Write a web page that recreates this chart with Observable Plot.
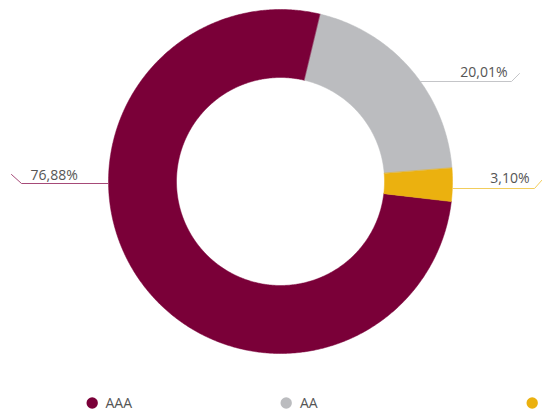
<!DOCTYPE html>
<html><head><meta charset="utf-8">
<script src="https://cdn.jsdelivr.net/npm/d3@7"></script>
<script src="https://cdn.jsdelivr.net/npm/@observablehq/plot@0.6"></script>
<style>body{margin:0;background:#fff;font-family:"Open Sans",sans-serif;}</style>
</head><body><div id="chart"></div>
<script>
// Data
const categories = ["AAA", "AA", "A"];
const shares = [76.88, 20.01, 3.10];
const valueLabels = ["76,88%", "20,01%", "3,10%"];
const legendLabels = ["AAA", "AA", ""];
const colors = ["#7a0038", "#bbbcbf", "#ebb10f"];
const lineColors = ["#a64a78", "#c4c5c8", "#f2cd5c"];

// Layout
const W = 542, H = 411;
const cx = 280, cy = 181, R = 172, R0 = 104;
const startDeg = 96.7;
const labelLayout = [
  {side: -1, y: 183, xEnd: 21, ddx: -10, ddy: -9, tx: 30, ty: 179, anchor: "start"},
  {side: 1, y: 81, xEnd: 511, ddx: 8, ddy: -8, tx: 507, ty: 76, anchor: "end"},
  {side: 1, y: 188, xEnd: 534, ddx: 8, ddy: -9, tx: 529, ty: 182, anchor: "end"}
];
const legendLayout = [
  {dx: 91.7, tx: 105},
  {dx: 285.7, tx: 299.5},
  {dx: 531.7, tx: 545}
];
const legendY = 402.5;

const pie = d3.pie().sort(null).value(d => d)
  .startAngle(startDeg * Math.PI / 180)
  .endAngle((startDeg + 360) * Math.PI / 180);
const arcs = pie(shares);

const slicePts = [];
arcs.forEach((a, i) => {
  const n = Math.max(6, Math.ceil((a.endAngle - a.startAngle) * 180 / Math.PI * 2));
  for (let k = 0; k <= n; k++) {
    const t = a.startAngle + (a.endAngle - a.startAngle) * k / n;
    slicePts.push({cat: categories[i], x: cx + R * Math.sin(t), y: cy - R * Math.cos(t)});
  }
  for (let k = n; k >= 0; k--) {
    const t = a.startAngle + (a.endAngle - a.startAngle) * k / n;
    slicePts.push({cat: categories[i], x: cx + R0 * Math.sin(t), y: cy - R0 * Math.cos(t)});
  }
});

const leaderPts = [];
labelLayout.forEach((L, i) => {
  const dy = L.y - cy;
  const xs = cx + L.side * Math.sqrt(R * R - dy * dy);
  leaderPts.push({cat: categories[i], x: xs, y: L.y});
  leaderPts.push({cat: categories[i], x: L.xEnd, y: L.y});
  leaderPts.push({cat: categories[i], x: L.xEnd + L.ddx, y: L.y + L.ddy});
});

const labelData = categories.map((c, i) => ({cat: c, label: valueLabels[i], ...labelLayout[i]}));
const legendData = categories.map((c, i) => ({cat: c, label: legendLabels[i], ...legendLayout[i]}));

const chart = Plot.plot({
  width: W, height: H,
  margin: 0,
  x: {domain: [0, W], range: [0, W], axis: null},
  y: {domain: [0, H], range: [0, H], axis: null},
  color: {domain: categories, range: colors},
  style: {fontFamily: "'Open Sans', sans-serif", background: "#fff"},
  marks: [
    Plot.line(slicePts, {x: "x", y: "y", z: "cat", fill: "cat", stroke: "cat", strokeWidth: 0.5, curve: "linear-closed"}),
    ...categories.map((c, i) => Plot.line(leaderPts.filter(d => d.cat === c), {x: "x", y: "y", stroke: lineColors[i], strokeWidth: 1})),
    Plot.text(labelData.filter(d => d.anchor === "end"), {x: "tx", y: "ty", text: "label", textAnchor: "end", lineAnchor: "bottom", fontSize: 14, fill: "#555"}),
    Plot.text(labelData.filter(d => d.anchor === "start"), {x: "tx", y: "ty", text: "label", textAnchor: "start", lineAnchor: "bottom", fontSize: 14, fill: "#555"}),
    Plot.dot(legendData, {x: "dx", y: () => legendY, r: 5.7, fill: "cat", stroke: null}),
    Plot.text(legendData, {x: "tx", y: () => legendY + 5, text: "label", textAnchor: "start", lineAnchor: "bottom", fontSize: 14, fill: "#555"})
  ]
});
document.getElementById("chart").append(chart);
</script>
</body></html>
